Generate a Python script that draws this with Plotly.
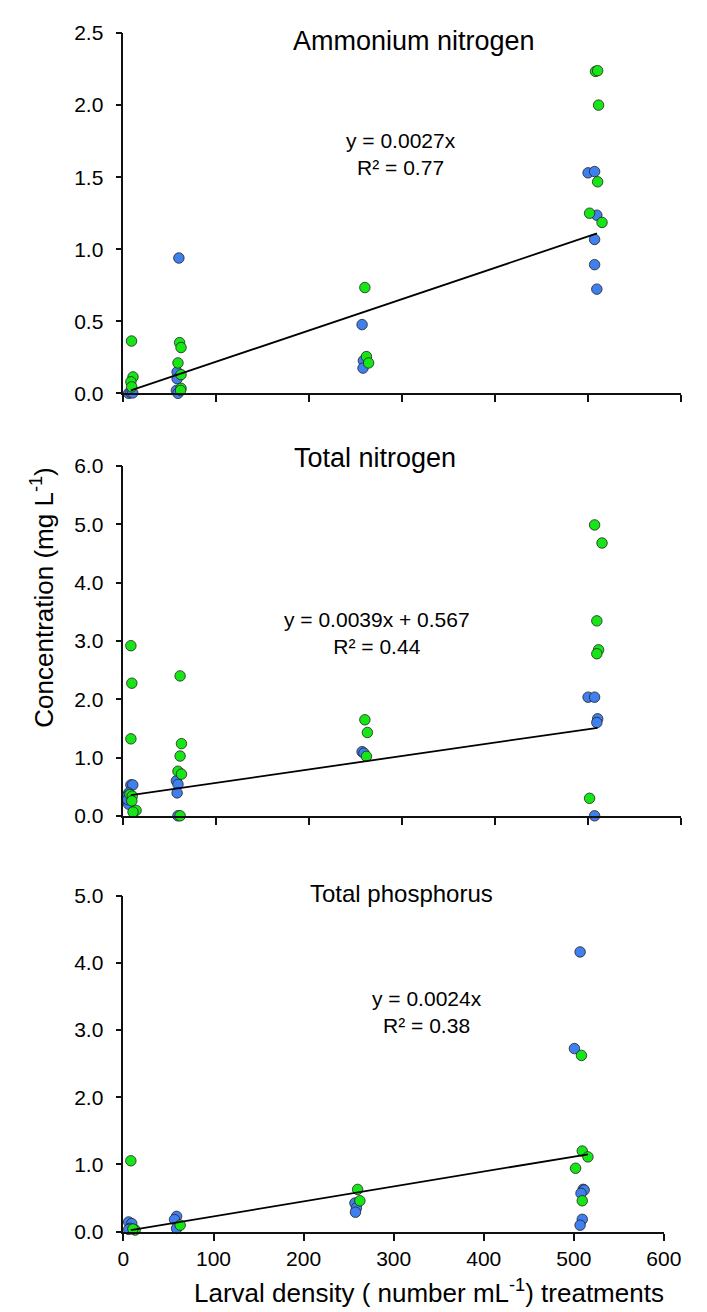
import plotly.graph_objects as go

FONT = "Liberation Sans, Arial, sans-serif"
GREEN = "#16e616"
BLUE = "#3f7fee"

# ---------------- Ammonium nitrogen ----------------
amm_green_x = [8.7, 10.3, 8, 8.9, 60.5, 62, 58.7, 62, 62, 61.5, 260, 261.7, 264, 508.4, 510.7, 511.7, 510.7, 502, 515.4]
amm_green_y = [0.363, 0.114, 0.08, 0.045, 0.352, 0.318, 0.211, 0.13, 0.035, 0.02, 0.734, 0.255, 0.211, 2.234, 2.239, 2.0, 1.468, 1.25, 1.186]
amm_blue_x = [5.6, 8, 10, 59.7, 57.8, 57.8, 57, 58.7, 257, 258.4, 258, 500.4, 507.4, 509.8, 507.4, 507.4, 509.8]
amm_blue_y = [0.0, 0.005, 0.003, 0.939, 0.148, 0.102, 0.02, 0.0, 0.477, 0.227, 0.175, 1.53, 1.539, 1.236, 1.068, 0.893, 0.723]
amm_fit_x = [8, 510]
amm_fit_y = [0.02, 1.11]

# ---------------- Total nitrogen ----------------
tn_green_x = [8, 9, 8, 7, 9.5, 9, 13.6, 10.3, 61, 62.5, 61, 58.7, 62.5, 61, 260, 262.7, 261.7, 507.4, 515.4, 509.8, 511.7, 509.8, 502]
tn_green_y = [2.918, 2.275, 1.32, 0.365, 0.338, 0.256, 0.093, 0.065, 2.4, 1.238, 1.025, 0.764, 0.715, 0.0, 1.647, 1.429, 1.02, 4.99, 4.68, 3.344, 2.847, 2.78, 0.3]
tn_blue_x = [8, 10, 5.6, 4.5, 5.6, 4.5, 57, 58.7, 57.8, 58.7, 257, 259, 500.4, 507.4, 510.7, 509.8, 507.4]
tn_blue_y = [0.53, 0.53, 0.39, 0.34, 0.2, 0.28, 0.6, 0.54, 0.393, 0.0, 1.1, 1.075, 2.035, 2.035, 1.664, 1.6, 0.0]
tn_fit_x = [8, 510.7]
tn_fit_y = [0.355, 1.51]

# ---------------- Total phosphorus ----------------
tp_green_x = [8.2, 13, 10.5, 63, 260, 262.5, 508.5, 509.4, 515.7, 502, 509.4]
tp_green_y = [1.055, 0.024, 0.04, 0.097, 0.629, 0.46, 2.623, 1.2, 1.113, 0.944, 0.46]
tp_blue_x = [5.8, 9.2, 7.3, 5.8, 59, 56.7, 59, 257, 258.6, 257.6, 507, 500.7, 510.4, 511.5, 508, 509.4, 507]
tp_blue_y = [0.145, 0.121, 0.05, 0.034, 0.228, 0.18, 0.048, 0.426, 0.353, 0.29, 4.163, 2.725, 0.63, 0.62, 0.571, 0.184, 0.097]
tp_fit_x = [8.2, 515.7]
tp_fit_y = [0.024, 1.152]

titles = ["Ammonium nitrogen", "Total nitrogen", "Total phosphorus"]
equations = ["y = 0.0027x<br>R² = 0.77", "y = 0.0039x + 0.567<br>R² = 0.44", "y = 0.0024x<br>R² = 0.38"]
x_ticks = [0, 100, 200, 300, 400, 500, 600]

W, H = 707, 1312
fig = go.Figure()

panels = [
    dict(gx=amm_green_x, gy=amm_green_y, bx=amm_blue_x, by=amm_blue_y, fx=amm_fit_x, fy=amm_fit_y,
         yr=[0, 2.5], dt=0.5, px=(113.3, 690), py=(13.3, 380), title_xy=(414, 21), eq_xy=(401, 136), tsize=27),
    dict(gx=tn_green_x, gy=tn_green_y, bx=tn_blue_x, by=tn_blue_y, fx=tn_fit_x, fy=tn_fit_y,
         yr=[0, 6], dt=1, px=(113.3, 690), py=(454, 810), title_xy=(374, 446), eq_xy=(376, 624), tsize=27),
    dict(gx=tp_green_x, gy=tp_green_y, bx=tp_blue_x, by=tp_blue_y, fx=tp_fit_x, fy=tp_fit_y,
         yr=[0, 5], dt=1, px=(113.3, 672.7), py=(891.3, 1233.3), title_xy=(401, 889), eq_xy=(428, 1010), tsize=24),
]

for i, p in enumerate(panels):
    n = "" if i == 0 else str(i + 1)
    xa, ya = "x" + n, "y" + n
    for xs, ys, col in [(p["bx"], p["by"], BLUE), (p["gx"], p["gy"], GREEN)]:
        fig.add_trace(go.Scatter(x=xs, y=ys, mode="markers", xaxis=xa, yaxis=ya, cliponaxis=False,
                                 marker=dict(size=10.5, color=col, line=dict(color="#222222", width=0.8)),
                                 showlegend=False))
    fig.add_trace(go.Scatter(x=p["fx"], y=p["fy"], mode="lines", xaxis=xa, yaxis=ya, cliponaxis=False,
                             line=dict(color="black", width=1.8), showlegend=False))
    xd = [p["px"][0] / W, p["px"][1] / W]
    yd = [1 - p["py"][1] / H, 1 - p["py"][0] / H]
    nt = int(round(p["yr"][1] / p["dt"])) + 1
    yt = [p["dt"] * k for k in range(nt)]
    fig.layout["xaxis" + n] = dict(domain=xd, range=[0, 600], anchor=ya, showline=True, linecolor="#111",
                                   linewidth=1.8, ticks="outside", ticklen=7, tickwidth=1.8, tickcolor="#111",
                                   tickvals=x_ticks, showticklabels=(i == 2), showgrid=False, zeroline=False,
                                   tickfont=dict(family=FONT, size=21, color="black"), fixedrange=True)
    fig.layout["yaxis" + n] = dict(domain=yd, range=p["yr"], anchor=xa, showline=True, linecolor="#111",
                                   linewidth=1.8, ticks="outside", ticklen=6, tickwidth=1.8, tickcolor="#111",
                                   tickvals=yt, ticktext=["%.1f" % v for v in yt], showgrid=False, zeroline=False,
                                   tickfont=dict(family=FONT, size=21, color="black"), ticklabelstandoff=8,
                                   fixedrange=True)
    fig.add_annotation(text=titles[i], xref="paper", yref="paper", x=p["title_xy"][0] / W,
                       y=1 - p["title_xy"][1] / H, xanchor="center", yanchor="middle", showarrow=False,
                       font=dict(family=FONT, size=p["tsize"], color="black"))
    fig.add_annotation(text=equations[i], xref="paper", yref="paper", x=p["eq_xy"][0] / W,
                       y=1 - p["eq_xy"][1] / H, xanchor="center", yanchor="middle", showarrow=False,
                       align="center", font=dict(family=FONT, size=21, color="black"))

fig.add_annotation(text="Concentration (mg L<sup>-1</sup>)", xref="paper", yref="paper", x=30 / W, y=1 - 588 / H,
                   textangle=-90, showarrow=False, xanchor="center", yanchor="middle",
                   font=dict(family=FONT, size=26, color="black"))
fig.add_annotation(text="Larval density ( number mL<sup>-1</sup>) treatments", xref="paper", yref="paper",
                   x=430 / W, y=1 - 1294 / H, showarrow=False, xanchor="center", yanchor="middle",
                   font=dict(family=FONT, size=26, color="black"))

fig.update_layout(width=W, height=H, margin=dict(l=0, r=0, t=0, b=0), plot_bgcolor="white",
                  paper_bgcolor="white", showlegend=False)

fig.write_html("out.html")
